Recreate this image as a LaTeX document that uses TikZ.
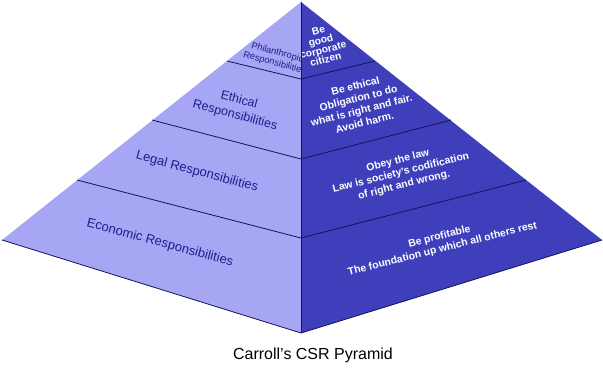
\documentclass[tikz,border=0pt]{standalone}
\usepackage{fontspec}
\setmainfont{Liberation Sans}
\usetikzlibrary{positioning}
\definecolor{faceleft}{HTML}{A6A6F4}
\definecolor{faceright}{HTML}{3F3FBC}
\definecolor{ink}{HTML}{1E1E8C}
\definecolor{edge}{HTML}{14145A}
\tikzset{
  lefttxt/.style  = {text=ink, align=center, rotate=-15, inner sep=0pt,
                     font=\fontsize{13}{15}\selectfont},
  righttxt/.style = {text=white, align=center, rotate=14, inner sep=0pt,
                     font=\bfseries\fontsize{10.4}{12.6}\selectfont},
  divider/.style  = {draw=edge, line width=0.8pt},
}

\begin{document}
\begin{tikzpicture}[x=1pt, y=-1pt]
  \useasboundingbox (0,0) rectangle (603,376);

  % corners of the pyramid
  \coordinate (apex) at (301,2);
  \coordinate (lc) at (2,240);
  \coordinate (fc) at (301,333);
  \coordinate (rc) at (602,240);
  % layer borders
  \coordinate (l1) at (227,61);  \coordinate (c1) at (301,79);  \coordinate (r1) at (375,61);
  \coordinate (l2) at (152,120); \coordinate (c2) at (301,159); \coordinate (r2) at (451,120);
  \coordinate (l3) at (77,180);  \coordinate (c3) at (301,238); \coordinate (r3) at (526,180);

  \fill[faceleft] (apex) -- (lc) -- (fc) -- cycle;

  \node[lefttxt, font=\fontsize{9.3}{10.5}\selectfont] (phil) at (276,58) {Philanthropic\\Responsibilities};
  \node[lefttxt, font=\fontsize{12.5}{15.5}\selectfont] (eth) at (237,108) {Ethical\\Responsibilities};
  \node[lefttxt] (legal) at (197,172) {Legal Responsibilities};
  \node[lefttxt] (econ) at (160,243) {Economic Responsibilities};

  \fill[faceright] (apex) -- (rc) -- (fc) -- cycle;

  \node[righttxt, font=\bfseries\fontsize{10.2}{10}\selectfont] (citizen) at (322,45) {Be\\good\\corporate\\citizen};
  \node[righttxt] (ethical) at (360,104) {Be ethical\\Obligation to do\\what is right and fair.\\Avoid harm.};
  \node[righttxt] (law) at (401,173) {Obey the law\\Law is society’s codification\\of right and wrong.};
  \node[righttxt] (profit) at (441,243) {Be profitable\\The foundation up which all others rest};

  \draw[divider] (apex) -- (fc);
  \draw[divider] (l1) -- (c1) -- (r1);
  \draw[divider] (l2) -- (c2) -- (r2);
  \draw[divider] (l3) -- (c3) -- (r3);
  \draw[divider] (lc) -- (fc) -- (rc);

  \node[font=\fontsize{16}{19}\selectfont] (title) at (313,355) {Carroll’s CSR Pyramid};
\end{tikzpicture}
\end{document}
